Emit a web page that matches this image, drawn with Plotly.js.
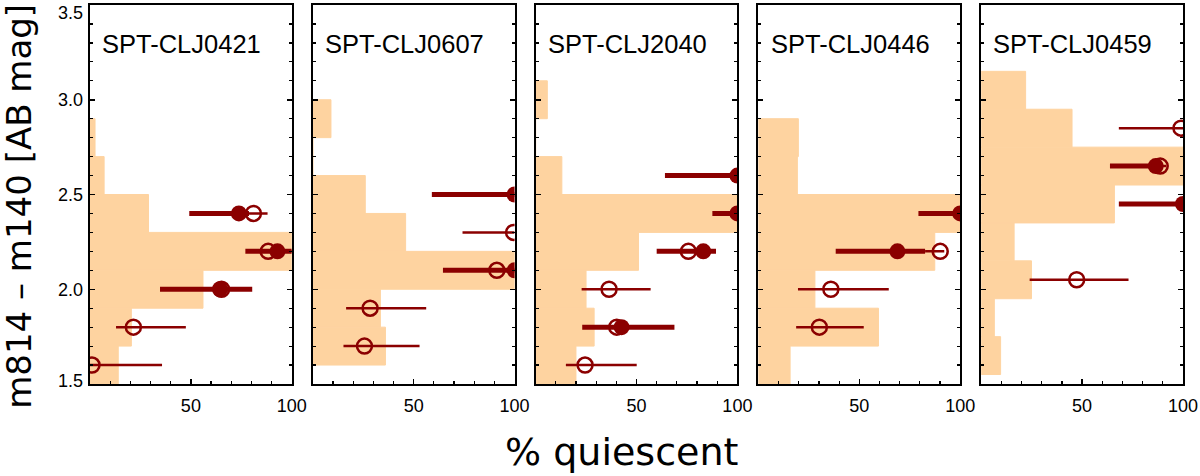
<!DOCTYPE html>
<html>
<head>
<meta charset="utf-8">
<script src="https://cdn.plot.ly/plotly-3.0.1.min.js"></script>
<style>html,body{margin:0;padding:0;background:#fff;}#chart{width:1200px;height:476px;}</style>
</head>
<body>
<div id="chart"></div>
<script>
// ---- data ----
const clusterNames = ['SPT-CLJ0421', 'SPT-CLJ0607', 'SPT-CLJ2040', 'SPT-CLJ0446', 'SPT-CLJ0459'];

// histogram of colours (bin centres, bin width 0.2) and percentage
const histBinCenters = [
  [1.6, 1.8, 2.0, 2.2, 2.4, 2.6, 2.8],
  [1.7, 1.9, 2.1, 2.3, 2.5, 2.7, 2.9],
  [1.6, 1.8, 2.0, 2.2, 2.4, 2.6, 2.8, 3.0],
  [1.6, 1.8, 2.0, 2.2, 2.4, 2.6, 2.8],
  [1.65, 1.85, 2.05, 2.25, 2.45, 2.65, 2.85, 3.05]
];
const histPercent = [
  [14, 20.5, 56, 100, 29, 7, 2.5],
  [36, 33.5, 100, 46, 26, 0, 9],
  [20, 29, 25, 51, 100, 13, 0, 5.8],
  [15.7, 59.5, 28, 87.4, 100, 19.3, 19.8],
  [9.6, 6.5, 24.9, 16.3, 66, 100, 45, 22]
];

// filled symbols (thick error bars)
const filledColour = [[2.4, 2.2, 2.0], [2.5, 2.1], [2.6, 2.4, 2.2, 1.8], [2.4, 2.2], [2.65, 2.45]];
const filledPct    = [[73.8, 92.9, 64.4], [100, 100], [100, 100, 83.1, 42.6], [100, 68.9], [86.5, 100]];
const filledErrLo  = [[24.6, 15.9, 29.7], [41, 35.5], [35.9, 12.4, 23.1, 19.5], [20.7, 30.6], [22.7, 31.8]];
const filledErrHi  = [[5, 7.1, 16], [0, 0], [0, 0, 6.3, 26.2], [0, 13.7], [2, 0]];

// open symbols (thin error bars)
const openColour = [[2.4, 2.2, 2.0, 1.8, 1.6], [2.3, 2.1, 1.9, 1.7], [2.2, 2.0, 1.8, 1.6], [2.2, 2.0, 1.8], [2.85, 2.65, 2.05]];
const openPct    = [[81, 88.3, 65.2, 21.5, 1], [99.5, 91.2, 28.4, 25.6], [75.7, 36.4, 40.2, 24.5], [90.1, 35.9, 30.2], [99, 88.7, 47.3]];
const openErrLo  = [[12, 10, 20, 8.6, 1], [25.3, 10, 11.9, 10.4], [10, 13.6, 10, 9.5], [7.5, 16.3, 11.5], [30.8, 8, 23.3]];
const openErrHi  = [[7, 11.7, 12, 26, 34.7], [0.5, 8.8, 27.8, 27.3], [10, 20.6, 12, 25.6], [2, 28.7, 22], [1, 3, 25.7]];

const xTickVals = [0, 50, 100];
const xTickText = ['', '50', '100'];
const yTickVals = [1.5, 2.0, 2.5, 3.0, 3.5];
const yTickText = ['1.5', '2.0', '2.5', '3.0', '3.5'];
// where the y tick labels sit (end labels are nudged inside the frame, as in the original)
const yLabelPos = [1.52, 2.0, 2.5, 3.0, 3.457];

// ---- style ----
const RED = '#8b0000';
const HIST = '#fed3a0';
const FONT = 'Liberation Sans, Arial, sans-serif';

const traces = [];
const layout = {
  width: 1200, height: 476,
  margin: {l: 90, r: 17, t: 5, b: 92},
  paper_bgcolor: '#fff', plot_bgcolor: '#fff',
  showlegend: false,
  barmode: 'overlay',
  annotations: []
};

const step = 0.20385, w = 0.1846;
for (let i = 0; i < 5; i++) {
  const sfx = i === 0 ? '' : String(i + 1);
  const xa = 'x' + sfx, ya = 'y' + sfx;
  traces.push({
    type: 'bar', orientation: 'h', xaxis: xa, yaxis: ya,
    y: histBinCenters[i], x: histPercent[i], width: 0.2,
    marker: {color: HIST, line: {width: 1, color: HIST}}, hoverinfo: 'skip'
  });
  traces.push({
    type: 'scatter', mode: 'markers', xaxis: xa, yaxis: ya,
    x: filledPct[i], y: filledColour[i],
    error_x: {type: 'data', symmetric: false, array: filledErrHi[i], arrayminus: filledErrLo[i],
              color: RED, thickness: 5, width: 0},
    marker: {symbol: 'circle', size: 16, color: RED, line: {width: 0}},
    hoverinfo: 'skip'
  });
  traces.push({
    type: 'scatter', mode: 'markers', xaxis: xa, yaxis: ya,
    x: openPct[i], y: openColour[i],
    error_x: {type: 'data', symmetric: false, array: openErrHi[i], arrayminus: openErrLo[i],
              color: RED, thickness: 2.5, width: 0},
    marker: {symbol: 'circle-open', size: 15, color: RED, line: {width: 2.5, color: RED}},
    hoverinfo: 'skip'
  });
  layout['xaxis' + sfx] = {
    domain: [i * step, i * step + w], anchor: ya, range: [0, 100],
    showline: true, linecolor: '#000', linewidth: 2, mirror: true,
    ticks: 'inside', ticklen: 5, tickwidth: 1.5, tickcolor: '#000',
    tickmode: 'array', tickvals: xTickVals, ticktext: xTickText,
    minor: {ticks: 'inside', ticklen: 3, tickwidth: 1.2, dtick: 10, tick0: 0, tickcolor: '#000', showgrid: false},
    showgrid: false, zeroline: false, fixedrange: true, ticklabelstandoff: 4,
    tickfont: {family: FONT, size: 18, color: '#000'}
  };
  layout['yaxis' + sfx] = {
    domain: [0, 1], anchor: xa, range: [1.5, 3.5],
    showline: true, linecolor: '#000', linewidth: 2, mirror: 'ticks',
    ticks: 'inside', ticklen: 5, tickwidth: 1.5, tickcolor: '#000',
    tickmode: 'array', tickvals: yTickVals, ticktext: yTickText,
    minor: {ticks: 'inside', ticklen: 3, tickwidth: 1.2, dtick: 0.1, tick0: 1.5, tickcolor: '#000', showgrid: false},
    showgrid: false, zeroline: false, fixedrange: true,
    showticklabels: false
  };
  layout.annotations.push({
    text: clusterNames[i], xref: xa + ' domain', yref: 'paper',
    x: 0.05, y: 0.897, xanchor: 'left', yanchor: 'middle', showarrow: false,
    font: {family: FONT, size: 25.5, color: '#000'}
  });
}
// label-only axis for the y tick labels of the first panel
layout.yaxis6 = {
  overlaying: 'y', anchor: 'x', side: 'left', range: [1.5, 3.5],
  tickmode: 'array', tickvals: yLabelPos, ticktext: yTickText,
  ticks: '', showline: false, showgrid: false, zeroline: false, fixedrange: true,
  ticklabelstandoff: 6, ticklabeloverflow: 'allow',
  tickfont: {family: FONT, size: 18, color: '#000'}
};
traces.push({type: 'scatter', mode: 'markers', x: [], y: [], xaxis: 'x', yaxis: 'y6', hoverinfo: 'skip'});

layout.annotations.push({
  text: '% quiescent', xref: 'paper', yref: 'paper', x: 0.4865, y: -0.179,
  xanchor: 'center', yanchor: 'middle', showarrow: false,
  font: {family: 'DejaVu Sans, sans-serif', size: 38, color: '#000'}
});
layout.annotations.push({
  text: 'm814 – m140 [AB mag]', xref: 'paper', yref: 'paper', x: -0.065, y: 0.47,
  xanchor: 'center', yanchor: 'middle', textangle: -90, showarrow: false,
  font: {family: 'DejaVu Sans, sans-serif', size: 34, color: '#000'}
});

Plotly.newPlot('chart', traces, layout, {staticPlot: true, displayModeBar: false});
</script>
</body>
</html>
